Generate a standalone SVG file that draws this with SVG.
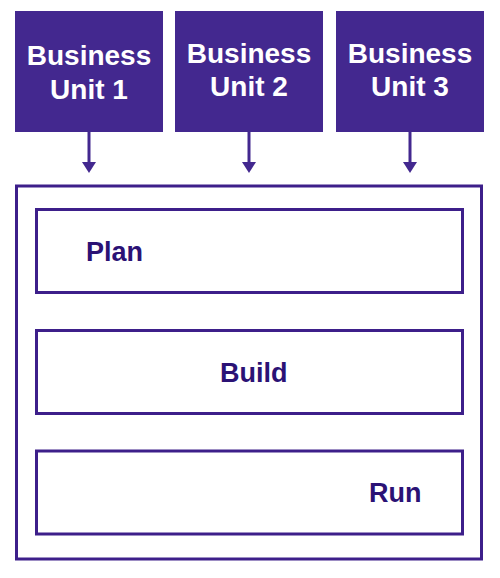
<svg xmlns="http://www.w3.org/2000/svg" width="500" height="578" viewBox="0 0 500 578">
<defs>
<style>
.bu{fill:#43288F;}
.bt{font-family:"Liberation Sans",Arial,sans-serif;font-weight:bold;font-size:28px;fill:#ffffff;text-anchor:middle;}
.frame{fill:#ffffff;stroke:#3D1F8A;stroke-width:3;}
.lt{font-family:"Liberation Sans",Arial,sans-serif;font-weight:bold;font-size:27px;fill:#2B1275;}
.conn{stroke:#43288F;stroke-width:3;fill:none;}
.head{fill:#43288F;}
</style>
</defs>
<rect width="500" height="578" fill="#ffffff"/>
<g id="bu1">
<rect class="bu" x="15" y="11" width="148" height="121"/>
<text class="bt" x="89" y="65">Business</text>
<text class="bt" x="89" y="99">Unit 1</text>
</g>
<g id="bu2">
<rect class="bu" x="175" y="11" width="148" height="121"/>
<text class="bt" x="249" y="63">Business</text>
<text class="bt" x="249" y="96">Unit 2</text>
</g>
<g id="bu3">
<rect class="bu" x="336" y="11" width="148" height="121"/>
<text class="bt" x="410" y="63">Business</text>
<text class="bt" x="410" y="96">Unit 3</text>
</g>
<g id="container">
<rect class="frame" x="16.5" y="186" width="465" height="373"/>
</g>
<g id="plan">
<rect class="frame" x="36.5" y="209.5" width="426" height="83"/>
<text class="lt" x="86" y="261">Plan</text>
</g>
<g id="build">
<rect class="frame" x="36.5" y="330.5" width="426" height="83"/>
<text class="lt" x="220" y="382">Build</text>
</g>
<g id="run">
<rect class="frame" x="36.5" y="451" width="426" height="83"/>
<text class="lt" x="369" y="502">Run</text>
</g>
<g id="connectors">
<line class="conn" x1="89" y1="132" x2="89" y2="164"/>
<polygon class="head" points="82,162 96,162 89,173"/>
<line class="conn" x1="249" y1="132" x2="249" y2="164"/>
<polygon class="head" points="242,162 256,162 249,173"/>
<line class="conn" x1="410" y1="132" x2="410" y2="164"/>
<polygon class="head" points="403,162 417,162 410,173"/>
</g>
</svg>
